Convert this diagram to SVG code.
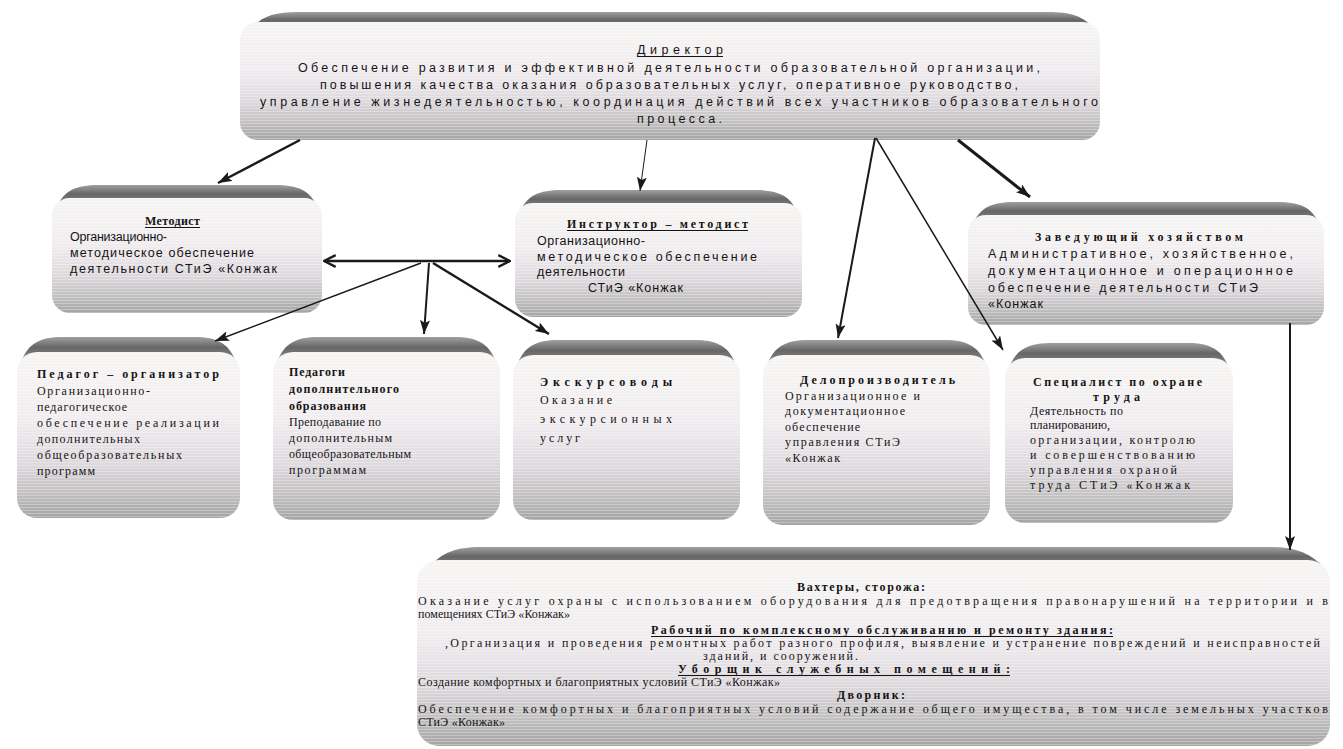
<svg xmlns="http://www.w3.org/2000/svg" width="1343" height="749" viewBox="0 0 1343 749">
<style>
.bar{fill:url(#gBar)}
.body{fill:url(#gBody)}
.scan{fill:url(#pScan)}
.sans{font-family:"Liberation Sans Narrow","Liberation Sans",Arial,sans-serif;fill:#141414;font-size:12.5px}
.serif{font-family:"Liberation Serif","Times New Roman",serif;fill:#141414;font-size:12px}
.b{font-weight:bold}
.ul{stroke:#141414;stroke-width:1}
.ln{stroke:#1a1a1a;fill:none}
</style>
<defs>
<linearGradient id="gBar" x1="0" y1="0" x2="0" y2="1">
<stop offset="0" stop-color="#a0a0a0"/>
<stop offset="0.45" stop-color="#666666"/>
<stop offset="1" stop-color="#8a8a8a"/>
</linearGradient>
<linearGradient id="gBody" x1="0" y1="0" x2="0" y2="1">
<stop offset="0" stop-color="#f7f5f3"/>
<stop offset="0.4" stop-color="#f0ecef"/>
<stop offset="0.68" stop-color="#dcd8dc"/>
<stop offset="0.86" stop-color="#c0bebf"/>
<stop offset="1" stop-color="#a4a4a4"/>
</linearGradient>
<pattern id="pScan" width="6" height="3" patternUnits="userSpaceOnUse">
<rect x="0" y="0" width="6" height="1" fill="#ffffff" opacity="0.3"/>
</pattern>
<marker id="arr" viewBox="0 0 14 10" refX="14" refY="5" markerWidth="14" markerHeight="10" markerUnits="userSpaceOnUse" orient="auto">
<path d="M0,0 L14,5 L0,10 L3,5 Z" fill="#1a1a1a"/>
</marker>
<marker id="open" viewBox="0 0 12 12" refX="11" refY="6" markerWidth="14" markerHeight="14" markerUnits="userSpaceOnUse" orient="auto-start-reverse">
<path d="M1,1 L11,6 L1,11" fill="none" stroke="#1a1a1a" stroke-width="2"/>
</marker>
</defs>
<rect width="1343" height="749" fill="#ffffff"/>

<g id="director">
<path class="bar" d="M252,28 C262,16 275,12 298,12 L1048,12 C1070,12 1085,16 1094,30 Z"/>
<rect class="body" x="240" y="22" width="860" height="118" rx="18"/>
<rect class="scan" x="240" y="22" width="860" height="118" rx="18"/>
<text class="sans" x="637" y="54" font-size="13" textLength="86">Директор</text>
<line class="ul" x1="637" y1="56.5" x2="723" y2="56.5"/>
<text class="sans" x="298" y="72" font-size="13" textLength="742">Обеспечение развития и эффективной деятельности образовательной организации,</text>
<text class="sans" x="320" y="89" font-size="13" textLength="698">повышения качества оказания образовательных услуг, оперативное руководство,</text>
<text class="sans" x="260" y="106" font-size="13" textLength="838">управление жизнедеятельностью, координация действий всех участников образовательного</text>
<text class="sans" x="637" y="123" font-size="13" textLength="85">процесса.</text>
</g>

<g id="metodist">
<path class="bar" d="M58,205 C64,191 76,185 98,185 L276,185 C298,185 310,191 316,205 Z"/>
<rect class="body" x="52" y="198" width="270" height="115" rx="18"/>
<rect class="scan" x="52" y="198" width="270" height="115" rx="18"/>
<text class="serif b" x="145" y="225" textLength="55">Методист</text>
<line class="ul" x1="145" y1="227.5" x2="200" y2="227.5"/>
<text class="sans" x="70" y="241" font-size="11.5" textLength="97">Организационно-</text>
<text class="sans" x="70" y="257" textLength="184">методическое   обеспечение</text>
<text class="sans" x="70" y="273" textLength="207">деятельности  СТиЭ  «Конжак</text>
</g>

<g id="instruktor">
<path class="bar" d="M521,210 C527,196 539,190 561,190 L756,190 C778,190 790,196 796,210 Z"/>
<rect class="body" x="515" y="203" width="287" height="114" rx="18"/>
<rect class="scan" x="515" y="203" width="287" height="114" rx="18"/>
<text class="serif b" x="567" y="228" textLength="181">Инструктор – методист</text>
<line class="ul" x1="567" y1="230.5" x2="748" y2="230.5"/>
<text class="sans" x="537" y="245" textLength="108">Организационно-</text>
<text class="sans" x="537" y="261" textLength="220">методическое   обеспечение</text>
<text class="sans" x="537" y="276" textLength="88">деятельности</text>
<text class="sans" x="588" y="292" textLength="95">СТиЭ «Конжак</text>
</g>

<g id="zavhoz">
<path class="bar" d="M974,222 C980,208 992,202 1014,202 L1278,202 C1300,202 1312,208 1318,222 Z"/>
<rect class="body" x="968" y="215" width="356" height="110" rx="18"/>
<rect class="scan" x="968" y="215" width="356" height="110" rx="18"/>
<text class="serif b" x="1035" y="241" textLength="208">Заведующий   хозяйством</text>
<text class="sans" x="988" y="258" textLength="305">Административное, хозяйственное,</text>
<text class="sans" x="988" y="275" textLength="305">документационное и операционное</text>
<text class="sans" x="988" y="292" textLength="270">обеспечение  деятельности  СТиЭ</text>
<text class="sans" x="988" y="308" textLength="55">«Конжак</text>
</g>

<g id="pedorg">
<path class="bar" d="M22,360 C28,344 40,337 62,337 L195,337 C217,337 229,344 235,360 Z"/>
<rect class="body" x="17" y="352" width="223" height="166" rx="20"/>
<rect class="scan" x="17" y="352" width="223" height="166" rx="20"/>
<text class="serif b" x="37" y="378" textLength="182">Педагог – организатор</text>
<text class="serif" x="37" y="395" textLength="113">Организационно-</text>
<text class="serif" x="37" y="411" textLength="90">педагогическое</text>
<text class="serif" x="37" y="427" textLength="182">обеспечение реализации</text>
<text class="serif" x="37" y="443" textLength="103">дополнительных</text>
<text class="serif" x="37" y="459" textLength="145">общеобразовательных</text>
<text class="serif" x="37" y="475" textLength="58">программ</text>
</g>

<g id="peddop">
<path class="bar" d="M278,360 C284,344 296,337 318,337 L455,337 C477,337 489,344 495,360 Z"/>
<rect class="body" x="273" y="352" width="227" height="168" rx="20"/>
<rect class="scan" x="273" y="352" width="227" height="168" rx="20"/>
<text class="serif b" x="289" y="376" textLength="56">Педагоги</text>
<text class="serif b" x="289" y="393" textLength="110">дополнительного</text>
<text class="serif b" x="289" y="410" textLength="77">образования</text>
<text class="serif" x="289" y="426" textLength="92">Преподавание по</text>
<text class="serif" x="289" y="442" textLength="103">дополнительным</text>
<text class="serif" x="289" y="458" textLength="122">общеобразовательным</text>
<text class="serif" x="289" y="474" textLength="77">программам</text>
</g>

<g id="ekskurs">
<path class="bar" d="M518,363 C524,347 536,340 558,340 L695,340 C717,340 729,347 735,363 Z"/>
<rect class="body" x="513" y="355" width="227" height="165" rx="20"/>
<rect class="scan" x="513" y="355" width="227" height="165" rx="20"/>
<text class="serif b" x="540" y="386" font-size="14" textLength="132">Экскурсоводы</text>
<text class="serif" x="540" y="404" font-size="13" textLength="72">Оказание</text>
<text class="serif" x="540" y="423" font-size="13" textLength="132">экскурсионных</text>
<text class="serif" x="540" y="442" font-size="13" textLength="40">услуг</text>
</g>

<g id="deloproizv">
<path class="bar" d="M768,363 C774,347 786,340 808,340 L945,340 C967,340 979,347 985,363 Z"/>
<rect class="body" x="763" y="355" width="227" height="170" rx="20"/>
<rect class="scan" x="763" y="355" width="227" height="170" rx="20"/>
<text class="serif b" x="800" y="384" textLength="155">Делопроизводитель</text>
<text class="serif" x="785" y="400" textLength="135">Организационное и</text>
<text class="serif" x="785" y="415" textLength="120">документационное</text>
<text class="serif" x="785" y="431" textLength="75">обеспечение</text>
<text class="serif" x="785" y="446" textLength="115">управления СТиЭ</text>
<text class="serif" x="785" y="462" textLength="55">«Конжак</text>
</g>

<g id="ohrana">
<path class="bar" d="M1010,366 C1016,350 1028,343 1050,343 L1188,343 C1210,343 1222,350 1228,366 Z"/>
<rect class="body" x="1005" y="358" width="228" height="165" rx="20"/>
<rect class="scan" x="1005" y="358" width="228" height="165" rx="20"/>
<text class="serif b" x="1033" y="386" textLength="169">Специалист по охране</text>
<text class="serif b" x="1093" y="401" textLength="47">труда</text>
<text class="serif" x="1030" y="415" textLength="93">Деятельность по</text>
<text class="serif" x="1030" y="429" textLength="80">планированию,</text>
<text class="serif" x="1030" y="444" textLength="165">организации, контролю</text>
<text class="serif" x="1030" y="459" textLength="165">и  совершенствованию</text>
<text class="serif" x="1030" y="474" textLength="147">управления охраной</text>
<text class="serif" x="1030" y="489" textLength="160">труда  СТиЭ «Конжак</text>
</g>

<g id="personal">
<path class="bar" d="M430,566 C442,553 456,547 480,547 L1272,547 C1296,547 1312,554 1324,568 Z"/>
<rect class="body" x="417" y="560" width="913" height="186" rx="22"/>
<rect class="scan" x="417" y="560" width="913" height="186" rx="22"/>
<text class="serif b" x="797" y="591" font-size="11.5" textLength="128">Вахтеры, сторожа:</text>
<text class="serif" x="418" y="605" font-size="11.5" textLength="910">Оказание услуг охраны с использованием оборудования для предотвращения правонарушений на территории и в</text>
<text class="serif" x="418" y="618" font-size="11.5" textLength="152">помещениях СТиЭ «Конжак»</text>
<text class="serif b" x="651" y="634" font-size="11.5" textLength="462">Рабочий по комплексному обслуживанию и ремонту здания:</text>
<line class="ul" x1="651" y1="636.5" x2="1113" y2="636.5"/>
<text class="serif" x="445" y="647" font-size="11.5" textLength="875">,Организация и проведения ремонтных работ разного профиля, выявление и устранение повреждений и неисправностей</text>
<text class="serif" x="703" y="660" font-size="11.5" textLength="155">зданий, и сооружений.</text>
<text class="serif b" x="678" y="673" font-size="11.5" textLength="332">Уборщик служебных помещений:</text>
<line class="ul" x1="678" y1="675.5" x2="1010" y2="675.5"/>
<text class="serif" x="418" y="686" font-size="11.5" textLength="362">Создание комфортных и благоприятных условий СТиЭ «Конжак»</text>
<text class="serif b" x="837" y="699" font-size="11.5" textLength="68">Дворник:</text>
<text class="serif" x="418" y="713" font-size="11.5" textLength="910">Обеспечение комфортных и благоприятных условий содержание общего имущества, в том числе земельных участков</text>
<text class="serif" x="418" y="726" font-size="11.5" textLength="87">СТиЭ «Конжак»</text>
</g>

<g id="connectors">
<path class="ln" d="M300,140 L218,183" stroke-width="2.5" marker-end="url(#arr)"/>
<path class="ln" d="M647,140 L640,191" stroke-width="1" marker-end="url(#arr)"/>
<path class="ln" d="M875,138 L838,338" stroke-width="2" marker-end="url(#arr)"/>
<path class="ln" d="M876,138 L1003,350" stroke-width="1.5" marker-end="url(#arr)"/>
<path class="ln" d="M958,140 L1030,197" stroke-width="3" marker-end="url(#arr)"/>
<path class="ln" d="M324,261 L510,261" stroke-width="2.5" marker-start="url(#open)" marker-end="url(#open)"/>
<path class="ln" d="M421,263 L215,341" stroke-width="1.5" marker-end="url(#arr)"/>
<path class="ln" d="M429,263 L424,334" stroke-width="2" marker-end="url(#arr)"/>
<path class="ln" d="M433,263 L549,334" stroke-width="2.5" marker-end="url(#arr)"/>
<path class="ln" d="M1290,323 L1290,550" stroke-width="2" marker-end="url(#arr)"/>
</g>
</svg>
